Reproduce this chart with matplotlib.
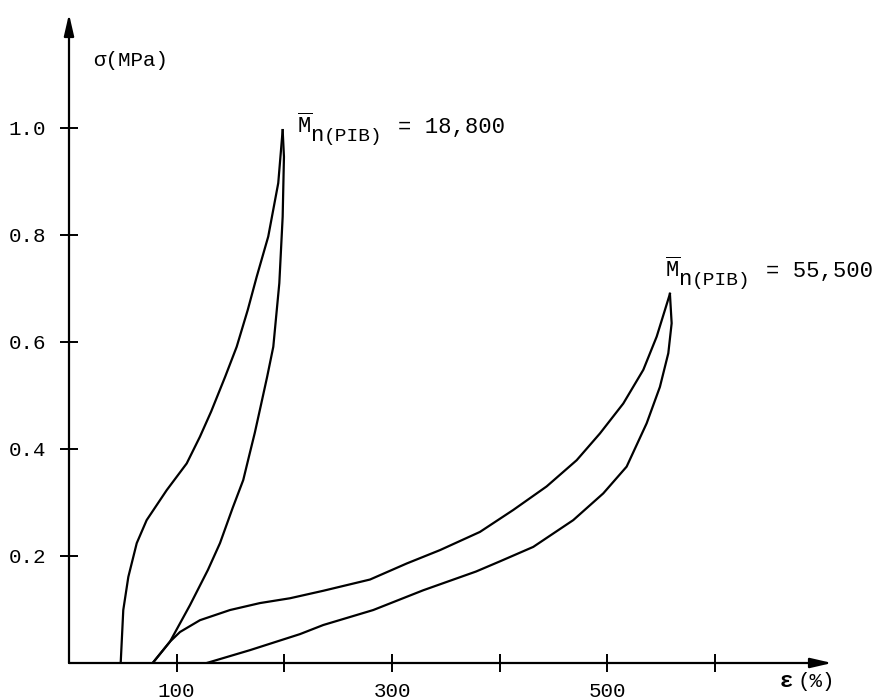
import matplotlib
matplotlib.use("Agg")
import matplotlib.pyplot as plt

plt.rcParams['font.family'] = ['Liberation Mono', 'DejaVu Sans Mono']
plt.rcParams['mathtext.fontset'] = 'custom'
plt.rcParams['mathtext.rm'] = 'Liberation Mono'

# Mn(PIB) = 18,800 : loading
strain_a_load = [48.0, 50.4, 55.1, 62.9, 72.1, 90.7, 109.3, 121.6, 132.0, 145.0,
                 155.7, 166.0, 174.3, 185.0, 194.3, 198.4]
stress_a_load = [0.0, 0.099, 0.161, 0.224, 0.267, 0.323, 0.373, 0.423, 0.470, 0.535,
                 0.591, 0.660, 0.722, 0.797, 0.897, 0.996]
# Mn(PIB) = 18,800 : unloading
strain_a_unload = [198.4, 199.6, 198.4, 195.3, 189.7, 184.0, 178.0, 172.5, 167.0, 161.8,
                   152.0, 140.2, 129.0, 112.3, 93.8, 77.7]
stress_a_unload = [0.996, 0.946, 0.834, 0.710, 0.591, 0.535, 0.480, 0.430, 0.385, 0.342,
                   0.290, 0.224, 0.174, 0.108, 0.040, 0.0]

# Mn(PIB) = 55,500 : loading
strain_b_load = [77.7, 93.8, 103.1, 121.6, 149.5, 177.3, 205.2, 236.1, 279.5, 313.6,
                 344.5, 381.6, 412.5, 443.5, 471.4, 493.0, 514.7, 533.3, 545.7, 553.4, 558.0]
stress_b_load = [0.0, 0.040, 0.058, 0.080, 0.099, 0.112, 0.121, 0.135, 0.156, 0.186,
                 0.211, 0.245, 0.286, 0.330, 0.379, 0.429, 0.485, 0.548, 0.610, 0.660, 0.690]
# Mn(PIB) = 55,500 : unloading
strain_b_unload = [558.0, 559.6, 556.5, 548.7, 536.4, 517.8, 496.1, 468.2, 431.1, 400.2,
                   378.0, 329.0, 282.5, 236.1, 214.5, 168.0, 127.9]
stress_b_unload = [0.690, 0.635, 0.579, 0.516, 0.448, 0.367, 0.317, 0.267, 0.217, 0.190,
                   0.171, 0.136, 0.099, 0.071, 0.054, 0.024, 0.0]

x_ticks = [100, 200, 300, 400, 500, 600]
x_tick_labels = ['100', '', '300', '', '500', '']
y_ticks = [0.2, 0.4, 0.6, 0.8, 1.0]
y_tick_labels = ['0.2', '0.4', '0.6', '0.8', '1.0']
mn_values = ['18,800', '55,500']

fig = plt.figure(figsize=(8.83, 7), dpi=100)
ax = fig.add_axes([69 / 883, 37 / 700, 763 / 883, 649 / 700])
ax.set_xlim(0, 708.5)
ax.set_ylim(0, 1.213)
for s in ax.spines.values():
    s.set_visible(False)

lw = 1.6
ax.plot(strain_a_load, stress_a_load, color='black', lw=lw)
ax.plot(strain_a_unload, stress_a_unload, color='black', lw=lw)
ax.plot(strain_b_load, stress_b_load, color='black', lw=lw)
ax.plot(strain_b_unload, stress_b_unload, color='black', lw=lw)

ax.set_xticks(x_ticks, x_tick_labels)
ax.set_yticks(y_ticks, y_tick_labels)
ax.tick_params(direction='inout', length=13, width=1.4, labelsize=15, color='black')
ax.tick_params(axis='y', pad=10)
ax.tick_params(axis='x', pad=7)

# axes drawn as arrows
arrow = dict(arrowstyle='-|>,head_length=1.3,head_width=0.3', mutation_scale=10,
             color='black', lw=1.6, shrinkA=0, shrinkB=0)
x_end = ax.get_xlim()[1]
y_end = ax.get_ylim()[1]
ax.annotate('', xy=(x_end, 0), xytext=(0, 0), arrowprops=arrow, annotation_clip=False)
ax.annotate('', xy=(0, y_end), xytext=(0, 0), arrowprops=arrow, annotation_clip=False)


def mn_label(x, y, value):
    # offsets in px, turned into points
    k = 0.72
    ax.annotate(r'$\overline{\mathrm{M}}$', (x, y), fontsize=16, va='baseline', ha='left')
    ax.annotate('n', (x, y), xytext=(13.3 * k, -8 * k), textcoords='offset points',
                fontsize=16, va='baseline')
    ax.annotate('(PIB)', (x, y), xytext=(26.6 * k, -8 * k), textcoords='offset points',
                fontsize=14, va='baseline')
    ax.annotate('= ' + value, (x, y), xytext=(101 * k, 0), textcoords='offset points',
                fontsize=16, va='baseline')


mn_label(211.4, 0.990, mn_values[0])
mn_label(553.4, 0.722, mn_values[1])

ax.text(22.3, 1.127, 'σ(MPa)', fontsize=15, va='center', ha='left')
ax.text(660, -0.0355, 'ε', fontsize=16, fontweight='bold', va='center', ha='left')
ax.text(676, -0.0355, '(%)', fontsize=15, va='center', ha='left')

fig.savefig('out.png', dpi=100)
